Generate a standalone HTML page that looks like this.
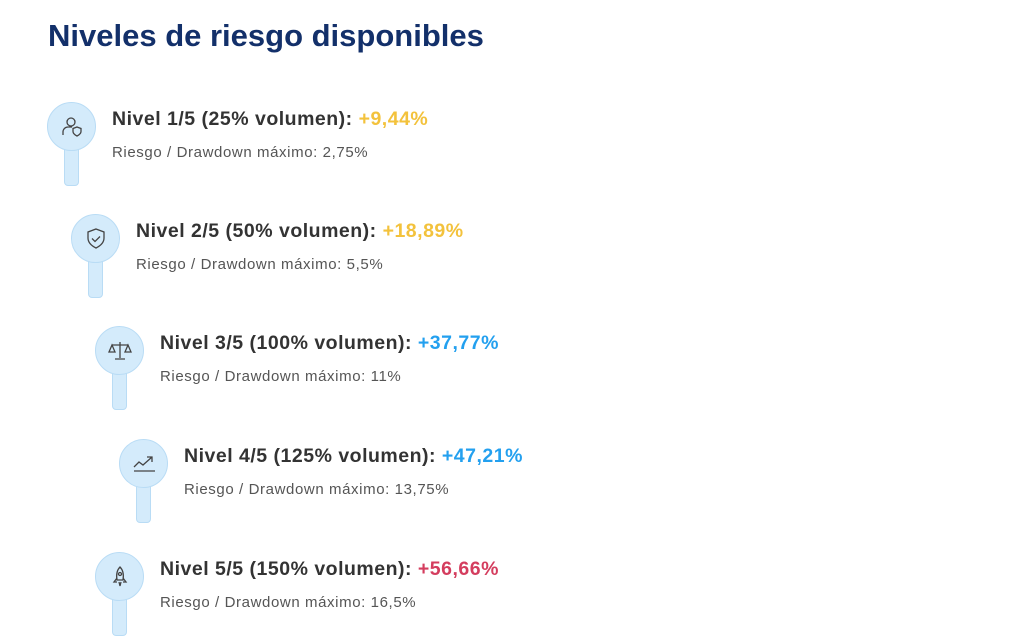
<!DOCTYPE html>
<html><head><meta charset="utf-8"><style>
body{margin:0;width:1024px;height:643px;background:#fff;font-family:"Liberation Sans",sans-serif;position:relative;overflow:hidden}
h1{position:absolute;left:48px;top:18px;margin:0;font-size:31px;font-weight:bold;color:#13306a;letter-spacing:0px}
.it{position:absolute}
.stem{position:absolute;width:15px;height:64px;background:#d4ebfb;border:1px solid #b9dcf5;border-radius:4px;box-sizing:border-box}
.circ{position:absolute;width:49px;height:49px;border-radius:50%;background:#d4ebfb;border:1px solid #b9dcf5;box-sizing:border-box;display:flex;align-items:center;justify-content:center}
.t{position:absolute;font-size:19.5px;font-weight:bold;color:#333;white-space:nowrap;letter-spacing:0.5px}
.s{position:absolute;font-size:15px;color:#555;white-space:nowrap;letter-spacing:0.6px}
.y{color:#f3c23c}.b{color:#23a0ef}.r{color:#d43d5e}
</style></head><body>
<h1>Niveles de riesgo disponibles</h1>

<div class="it" style="left:47px;top:102px">
<div class="stem" style="left:17px;top:20px"></div>
<div class="circ" style="left:0;top:0"><svg width="26" height="26" viewBox="0 0 26 26" fill="none" stroke="#444" stroke-width="1.3"><circle cx="12" cy="8" r="4"/><path d="M4 21v-3a5 5 0 0 1 5-5h4"/><path d="M18 13l4 1.5v3c0 2-2 3.5-4 4.5-2-1-4-2.5-4-4.5v-3z"/></svg></div>
<div class="t" style="left:65px;top:6px">Nivel 1/5 (25% volumen): <span class="y">+9,44%</span></div>
<div class="s" style="left:65px;top:42px">Riesgo / Drawdown máximo: 2,75%</div>
</div>

<div class="it" style="left:71px;top:214px">
<div class="stem" style="left:17px;top:20px"></div>
<div class="circ"><svg width="26" height="26" viewBox="0 0 26 26" fill="none" stroke="#444" stroke-width="1.3"><path d="M13 3l8 3v6c0 5-4 8-8 10-4-2-8-5-8-10V6z"/><path d="M9 12.5l3 3 5-5"/></svg></div>
<div class="t" style="left:65px;top:6px">Nivel 2/5 (50% volumen): <span class="y">+18,89%</span></div>
<div class="s" style="left:65px;top:42px">Riesgo / Drawdown máximo: 5,5%</div>
</div>

<div class="it" style="left:95px;top:326px">
<div class="stem" style="left:17px;top:20px"></div>
<div class="circ"><svg width="26" height="26" viewBox="0 0 26 26" fill="none" stroke="#444" stroke-width="1.3"><path d="M13 4v16M5 7h16M8 21h10"/><path d="M5 7l-3 7h6zM21 7l-3 7h6z"/></svg></div>
<div class="t" style="left:65px;top:6px">Nivel 3/5 (100% volumen): <span class="b">+37,77%</span></div>
<div class="s" style="left:65px;top:42px">Riesgo / Drawdown máximo: 11%</div>
</div>

<div class="it" style="left:119px;top:439px">
<div class="stem" style="left:17px;top:20px"></div>
<div class="circ"><svg width="26" height="26" viewBox="0 0 26 26" fill="none" stroke="#444" stroke-width="1.3"><path d="M3 16l5-5 4 3 9-8M16 6h5v5M3 20h21"/></svg></div>
<div class="t" style="left:65px;top:6px">Nivel 4/5 (125% volumen): <span class="b">+47,21%</span></div>
<div class="s" style="left:65px;top:42px">Riesgo / Drawdown máximo: 13,75%</div>
</div>

<div class="it" style="left:95px;top:552px">
<div class="stem" style="left:17px;top:20px"></div>
<div class="circ"><svg width="26" height="26" viewBox="0 0 26 26" fill="none" stroke="#444" stroke-width="1.3"><path d="M13 3c3 3 4 7 3 13h-6c-1-6 0-10 3-13z"/><circle cx="13" cy="10" r="1.5"/><path d="M10 14l-3 4h3M16 14l3 4h-3M12 18l1 4 1-4"/></svg></div>
<div class="t" style="left:65px;top:6px">Nivel 5/5 (150% volumen): <span class="r">+56,66%</span></div>
<div class="s" style="left:65px;top:42px">Riesgo / Drawdown máximo: 16,5%</div>
</div>
</body></html>
